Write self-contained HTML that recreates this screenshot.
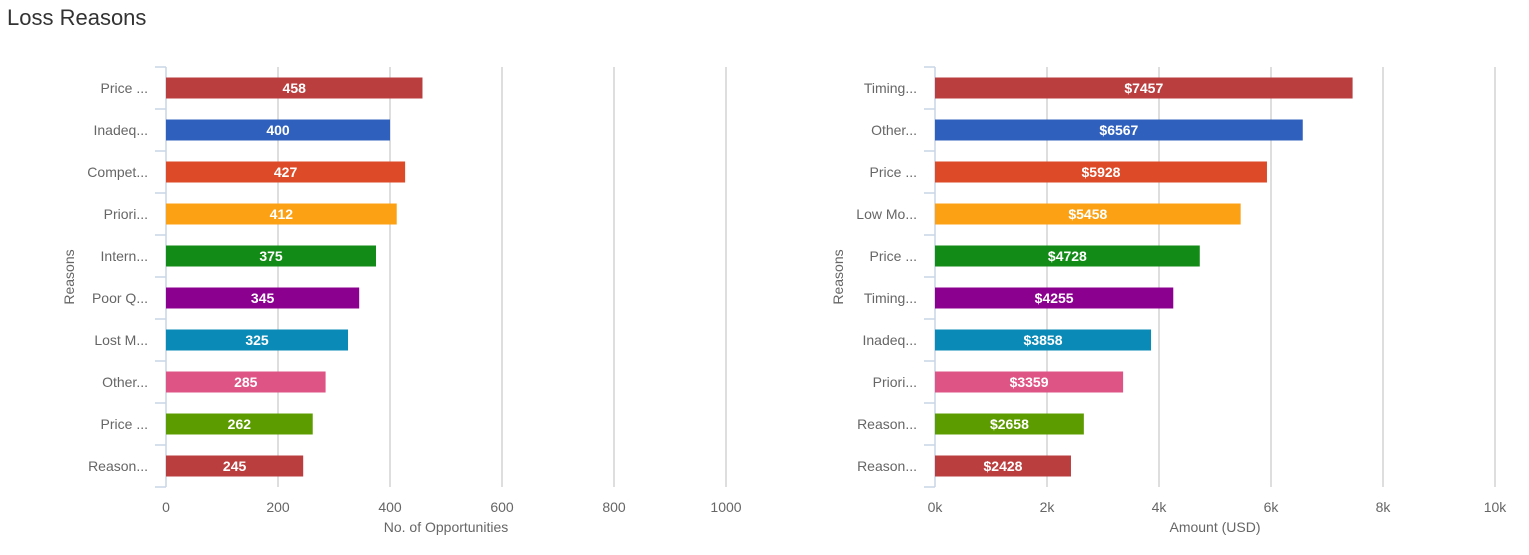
<!DOCTYPE html>
<html><head><style>body{margin:0;background:#fff;width:1529px;height:550px;overflow:hidden}</style></head><body>
<svg width="1529" height="550" xmlns="http://www.w3.org/2000/svg" font-family="Liberation Sans, Arial, sans-serif">
<text x="7" y="25" font-size="22" fill="#333">Loss Reasons</text>
<g id="L"></g>
</svg>
<script>
const cols=["#bb3e3f","#3060be","#dd4a27","#fca113","#138b17","#8c0090","#0a8ab6","#de5485","#5d9c00","#bb3e3f"];
function chart(x0,scale,ticks,tlab,labels,vals,fmt,title){
 let s='';
 for(let i=1;i<ticks.length;i++){const x=x0+ticks[i]*scale;s+=`<line x1="${x}" y1="67" x2="${x}" y2="487" stroke="#ccc" stroke-width="1.3"/>`;}
 s+=`<line x1="${x0}" y1="67" x2="${x0}" y2="487" stroke="#c9d6e6" stroke-width="1.5"/>`;
 for(let i=0;i<=10;i++){const y=67+i*42;s+=`<line x1="${x0-11}" y1="${y}" x2="${x0}" y2="${y}" stroke="#c9d6e6" stroke-width="1.5"/>`;}
 ticks.forEach((t,i)=>{s+=`<text x="${x0+t*scale}" y="512" font-size="14" fill="#666" text-anchor="middle">${tlab[i]}</text>`;});
 labels.forEach((l,i)=>{const cy=88+i*42,w=vals[i]*scale;
  s+=`<text x="${x0-18}" y="${cy+5}" font-size="14" fill="#666" text-anchor="end">${l}</text>`;
  s+=`<rect x="${x0}" y="${cy-10.5}" width="${w}" height="21" fill="${cols[i]}"/>`;
  s+=`<text x="${x0+w/2}" y="${cy+5}" font-size="14" font-weight="bold" fill="#fff" text-anchor="middle">${fmt(vals[i])}</text>`;});
 s+=`<text x="${x0+ticks[ticks.length-1]*scale/2}" y="532" font-size="14" fill="#666" text-anchor="middle">${title}</text>`;
 s+=`<text transform="translate(${x0-92},277) rotate(-90)" font-size="14" fill="#666" text-anchor="middle">Reasons</text>`;
 return s;}
let h=chart(166,0.56,[0,200,400,600,800,1000],["0","200","400","600","800","1000"],
["Price ...","Inadeq...","Compet...","Priori...","Intern...","Poor Q...","Lost M...","Other...","Price ...","Reason..."],
[458,400,427,412,375,345,325,285,262,245],v=>v,"No. of Opportunities");
h+=chart(935,0.056,[0,2000,4000,6000,8000,10000],["0k","2k","4k","6k","8k","10k"],
["Timing...","Other...","Price ...","Low Mo...","Price ...","Timing...","Inadeq...","Priori...","Reason...","Reason..."],
[7457,6567,5928,5458,4728,4255,3858,3359,2658,2428],v=>"$"+v,"Amount (USD)");
document.getElementById("L").innerHTML=h;
</script>
</body></html>
